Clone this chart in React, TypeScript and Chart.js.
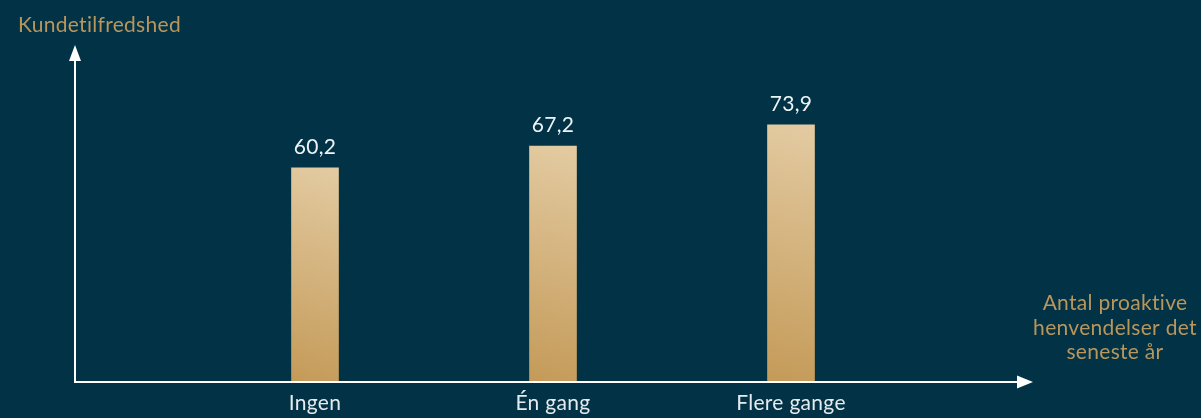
import React, { useEffect, useRef } from "react";
import { Chart, registerables } from "chart.js";

Chart.register(...registerables);

const categories = ["Ingen", "Én gang", "Flere gange"];
const satisfaction = [60.2, 67.2, 73.9];
const yTitle = "Kundetilfredshed";
const xTitleLines = ["Antal proaktive", "henvendelser det", "seneste år"];

const Y_MIN = -7.66;
const Y_MAX = 100;
const BG = "#023246";
const GOLD = "#b8965c";
const FONT = "Lato, 'Open Sans', sans-serif";

const fmt = (v: number) => v.toFixed(1).replace(".", ",");

const overlay = {
  id: "overlay",
  afterDraw(chart: any) {
    const ctx = chart.ctx as CanvasRenderingContext2D;
    const ys = chart.scales.y;
    const xs = chart.scales.x;
    const baseY = ys.getPixelForValue(Y_MIN) + 1;
    const axisX = 75;
    const yTip = 45;
    const xTip = 1033;
    ctx.save();
    ctx.strokeStyle = "#ffffff";
    ctx.fillStyle = "#ffffff";
    ctx.lineWidth = 2;
    ctx.beginPath();
    ctx.moveTo(axisX, baseY);
    ctx.lineTo(axisX, yTip + 14);
    ctx.moveTo(axisX - 1, baseY);
    ctx.lineTo(xTip - 14, baseY);
    ctx.stroke();
    ctx.beginPath();
    ctx.moveTo(axisX, yTip);
    ctx.lineTo(axisX - 6, yTip + 16);
    ctx.lineTo(axisX + 6, yTip + 16);
    ctx.closePath();
    ctx.fill();
    ctx.beginPath();
    ctx.moveTo(xTip, baseY);
    ctx.lineTo(xTip - 16, baseY - 6.5);
    ctx.lineTo(xTip - 16, baseY + 6.5);
    ctx.closePath();
    ctx.fill();

    ctx.font = `21px ${FONT}`;
    (ctx as any).letterSpacing = "0.3px";
    ctx.fillStyle = GOLD;
    ctx.textAlign = "left";
    ctx.textBaseline = "alphabetic";
    ctx.fillText(yTitle, 18, 32);
    ctx.textAlign = "center";
    xTitleLines.forEach((line, i) => ctx.fillText(line, 1115, 310 + i * 24.5));

    const meta = chart.getDatasetMeta(0);
    categories.forEach((c, i) => {
      const x = xs.getPixelForValue(i);
      ctx.fillStyle = "#e4ebee";
      ctx.fillText(c, x, 410);
      const bar = meta.data[i];
      ctx.fillStyle = "#eef3f5";
      ctx.fillText(fmt(satisfaction[i]), x, bar.y - 14);
    });
    ctx.restore();
  },
};

export default function App() {
  const ref = useRef<HTMLCanvasElement | null>(null);
  useEffect(() => {
    if (!ref.current) return;
    const chart = new Chart(ref.current, {
      type: "bar",
      data: {
        labels: categories,
        datasets: [
          {
            data: satisfaction,
            base: Y_MIN,
            barThickness: 47,
            borderWidth: 0,
            backgroundColor: (c: any) => {
              if (c.type !== "data") return "#d4ae74";
              const chartObj = c.chart;
              const ys = chartObj.scales.y;
              const xs = chartObj.scales.x;
              if (!ys || !xs) return "#d4ae74";
              const top = ys.getPixelForValue(c.raw);
              const bottom = ys.getPixelForValue(Y_MIN);
              const xc = xs.getPixelForValue(c.dataIndex);
              if (!isFinite(top) || !isFinite(bottom) || !isFinite(xc)) return "#d4ae74";
              const g = chartObj.ctx.createLinearGradient(xc + 30, top, xc - 30, bottom);
              g.addColorStop(0, "#e3cba2");
              g.addColorStop(1, "#c49a58");
              return g;
            },
          } as any,
        ],
      },
      options: {
        animation: false,
        responsive: false,
        maintainAspectRatio: false,
        layout: { padding: { left: 196, right: 291, top: 43, bottom: 37 } },
        plugins: { legend: { display: false }, tooltip: { enabled: false } },
        scales: {
          x: { display: false, offset: true },
          y: { display: false, min: Y_MIN, max: Y_MAX },
        },
      },
      plugins: [overlay],
    });
    return () => chart.destroy();
  }, []);
  return (
    <div
      style={{
        position: "fixed",
        left: 0,
        top: 0,
        width: 1201,
        height: 418,
        background: BG,
      }}
    >
      <canvas ref={ref} width={1201} height={418} style={{ display: "block" }} />
    </div>
  );
}
